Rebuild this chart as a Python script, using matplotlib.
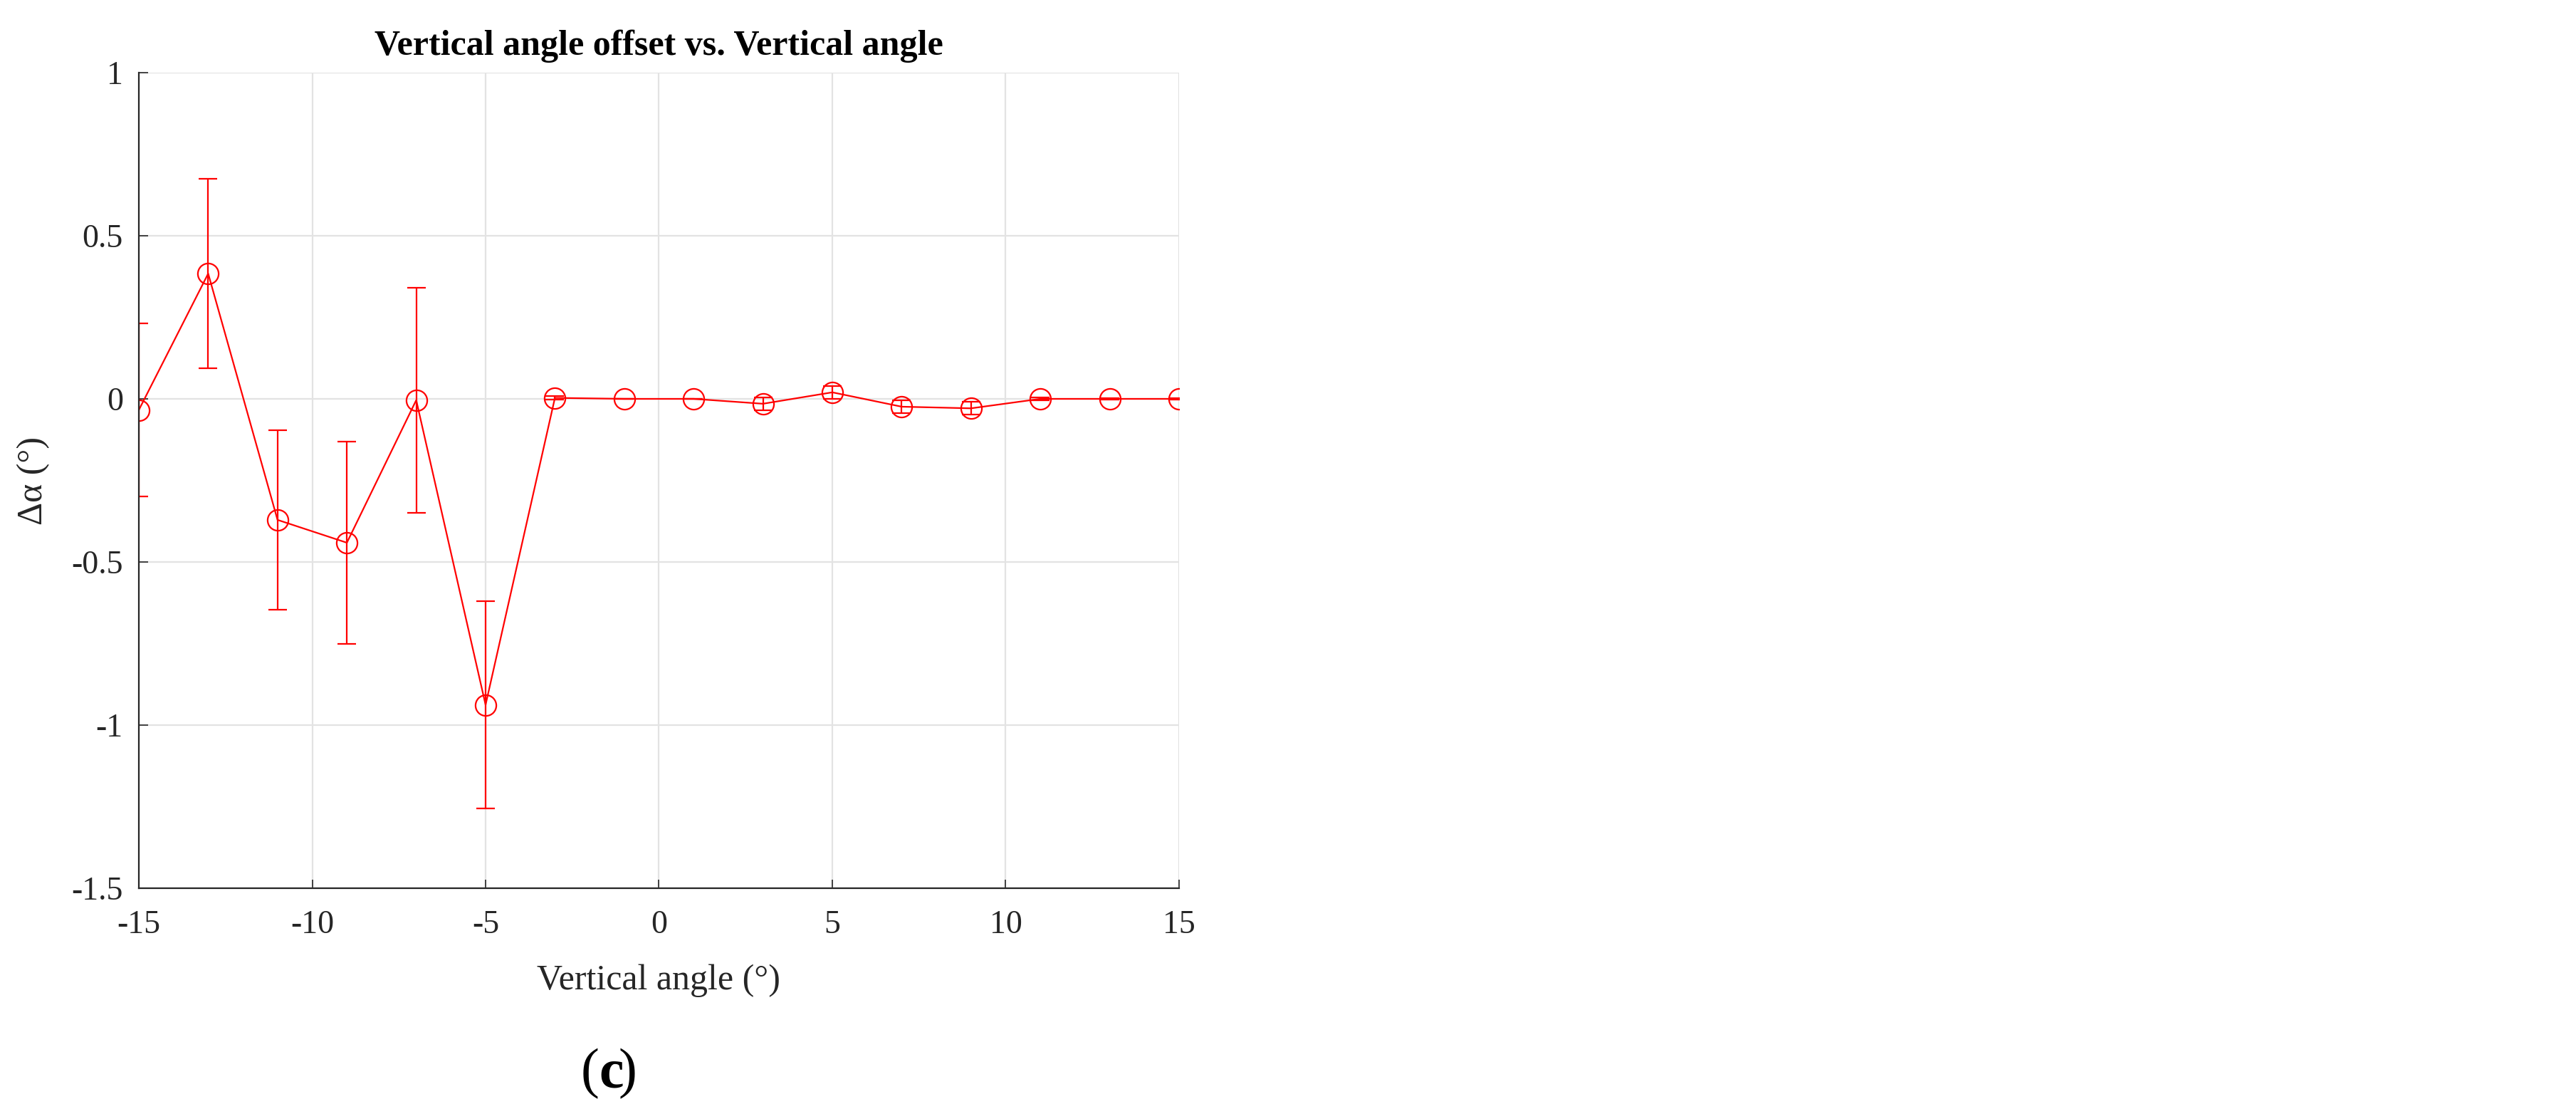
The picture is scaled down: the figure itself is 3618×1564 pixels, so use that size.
import matplotlib
matplotlib.use("Agg")
import matplotlib.pyplot as plt
from matplotlib.ticker import FuncFormatter

# datos
vertical_angle = [-15, -13, -11, -9, -7, -5, -3, -1, 1, 3, 5, 7, 9, 11, 13, 15]
offset = [-0.034, 0.384, -0.371, -0.441, -0.004, -0.938, 0.003, 0.0,
          0.0, -0.015, 0.02, -0.024, -0.029, 0.0, 0.0, 0.0]
offset_err = [0.265, 0.29, 0.275, 0.31, 0.345, 0.317, 0.005, 0.0,
              0.0, 0.02, 0.02, 0.02, 0.02, 0.004, 0.002, 0.002]
x_ticks = [-15, -10, -5, 0, 5, 10, 15]
y_ticks = [-1.5, -1, -0.5, 0, 0.5, 1]

plt.rcParams['font.family'] = ['Liberation Serif', 'DejaVu Serif']
plt.rcParams['axes.unicode_minus'] = False

dark = '#262626'
fig = plt.figure(figsize=(18.09, 7.82), dpi=200)
ax = fig.add_axes([0.0539, 0.2027, 0.4038, 0.7321])

ax.errorbar(vertical_angle, offset, yerr=offset_err, color='#ff0000',
            marker='o', markersize=10.5, markerfacecolor='none',
            markeredgewidth=0.8, linewidth=0.8, elinewidth=0.8,
            capsize=4.8, capthick=0.8)

ax.set_xlim(-15, 15)
ax.set_ylim(-1.5, 1)
ax.set_xticks(x_ticks)
ax.set_yticks(y_ticks)
fmt = FuncFormatter(lambda v, p: ('%g' % v))
ax.xaxis.set_major_formatter(fmt)
ax.yaxis.set_major_formatter(fmt)

ax.grid(True, color='#e3e3e3', linewidth=0.8)
ax.set_axisbelow(True)
for side in ('top', 'right'):
    ax.spines[side].set_visible(False)
for side in ('left', 'bottom'):
    ax.spines[side].set_color(dark)
    ax.spines[side].set_linewidth(0.8)
ax.tick_params(direction='in', length=4.5, width=0.6, colors=dark,
               labelsize=16.5, pad=8)
ax.tick_params(axis='x', pad=11)

ax.set_title("Vertical angle offset vs. Vertical angle", fontsize=18,
             fontweight='bold', pad=9)
ax.set_xlabel("Vertical angle (°)", fontsize=18, color=dark, labelpad=12)
ax.set_ylabel("Δα (°)", fontsize=18, color=dark, labelpad=11)

fig.text(0.2325, 0.036, "(", fontsize=28, ha='right', va='center')
fig.text(0.2325, 0.036, "c", fontsize=28, fontweight='bold', ha='left', va='center')
fig.text(0.2325 + 0.0076, 0.036, ")", fontsize=28, ha='left', va='center')

fig.savefig("out.png", dpi=200)
